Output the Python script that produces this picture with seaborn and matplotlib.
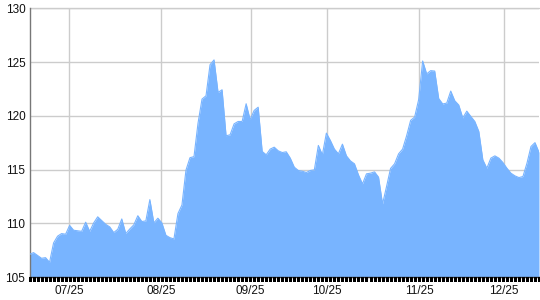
import matplotlib
matplotlib.use("Agg")
import matplotlib.pyplot as plt
import seaborn as sns
import pandas as pd
import numpy as np

values = [
    107.1, 107.27, 107.0, 106.74, 106.8, 106.37, 108.17, 108.8, 109.04, 108.98,
    109.8, 109.35, 109.3, 109.25, 110.1, 109.25, 110.03, 110.6, 110.25, 109.9,
    109.66, 109.13, 109.44, 110.4, 109.04, 109.47, 109.85, 110.7, 110.16, 110.22,
    112.2, 110.03, 110.47, 110.03, 108.88, 108.66, 108.54, 110.9, 111.7, 114.94,
    116.1, 116.2, 119.3, 121.55, 121.86, 124.75, 125.2, 122.17, 122.42, 118.14,
    118.23, 119.25, 119.47, 119.47, 121.12, 119.63, 120.5, 120.8, 116.68, 116.37,
    116.9, 117.08, 116.74, 116.58, 116.65, 116.06, 115.22, 114.91, 114.84, 114.72,
    114.91, 114.97, 117.24, 116.37, 118.39, 117.7, 116.9, 116.46, 117.36, 116.27,
    115.8, 115.53, 114.5, 113.66, 114.6, 114.66, 114.78, 114.29, 111.8, 113.42,
    115.1, 115.53, 116.46, 116.9, 118.14, 119.57, 119.88, 121.5, 125.1, 123.9,
    124.2, 124.16, 121.6, 121.1, 121.18, 122.3, 121.4, 121.0, 119.8, 120.43,
    119.94, 119.47, 118.54, 115.9, 115.12, 116.06, 116.27, 116.06, 115.65, 115.12,
    114.66, 114.41, 114.25, 114.35, 115.59, 117.14, 117.5, 116.6,
]
day_index = list(range(len(values)))
tick_labels = ["07/25", "08/25", "09/25", "10/25", "11/25", "12/25"]
tick_index = [9.97, 32.9, 55.1, 74.15, 97.1, 118.3]
y_ticks = [105, 110, 115, 120, 125, 130]

df = pd.DataFrame({"day": day_index, "value": values})

sns.set_theme(style="white")
plt.rcParams["font.family"] = ["Liberation Sans", "DejaVu Sans"]

fig = plt.figure(figsize=(5.4, 3.0), dpi=100)
ax = fig.add_axes([29.5 / 540, 23 / 300, 509.5 / 540, 268.7 / 300])

fill_color = "#78b4ff"
ax.fill_between(df["day"], df["value"], 105, color=fill_color, linewidth=0, zorder=2)
sns.lineplot(data=df, x="day", y="value", ax=ax, color=fill_color, linewidth=0.8, zorder=3)

ax.set_xlim(0, len(values) - 1)
ax.set_ylim(105, 130)
ax.set_xlabel("")
ax.set_ylabel("")

ax.set_yticks(y_ticks)
ax.set_yticklabels([str(v) for v in y_ticks], fontsize=8.5, color="#111111")
ax.set_xticks(tick_index)
ax.set_xticklabels(tick_labels, fontsize=8.5, color="#111111")
ax.tick_params(axis="x", which="major", length=0, pad=6)
ax.tick_params(axis="y", which="major", length=0, pad=3)

# small tick mark under every data point (crisp, 1 px)
ax.vlines(day_index, -0.016, 0, transform=ax.get_xaxis_transform(),
          colors="#000000", linewidth=0.75, clip_on=False, zorder=5,
          antialiased=False, snap=True)

ax.grid(True, which="major", color="#cccccc", linewidth=1.0, zorder=0)
ax.set_axisbelow(True)

for s in ["top", "right"]:
    ax.spines[s].set_visible(False)
ax.spines["left"].set_color("#777777")
ax.spines["left"].set_linewidth(1.0)
ax.spines["bottom"].set_color("#333333")
ax.spines["bottom"].set_linewidth(1.0)
ax.axhline(130, color="#cccccc", linewidth=1.0, zorder=1, clip_on=False)

fig.savefig("out.png", dpi=100)
